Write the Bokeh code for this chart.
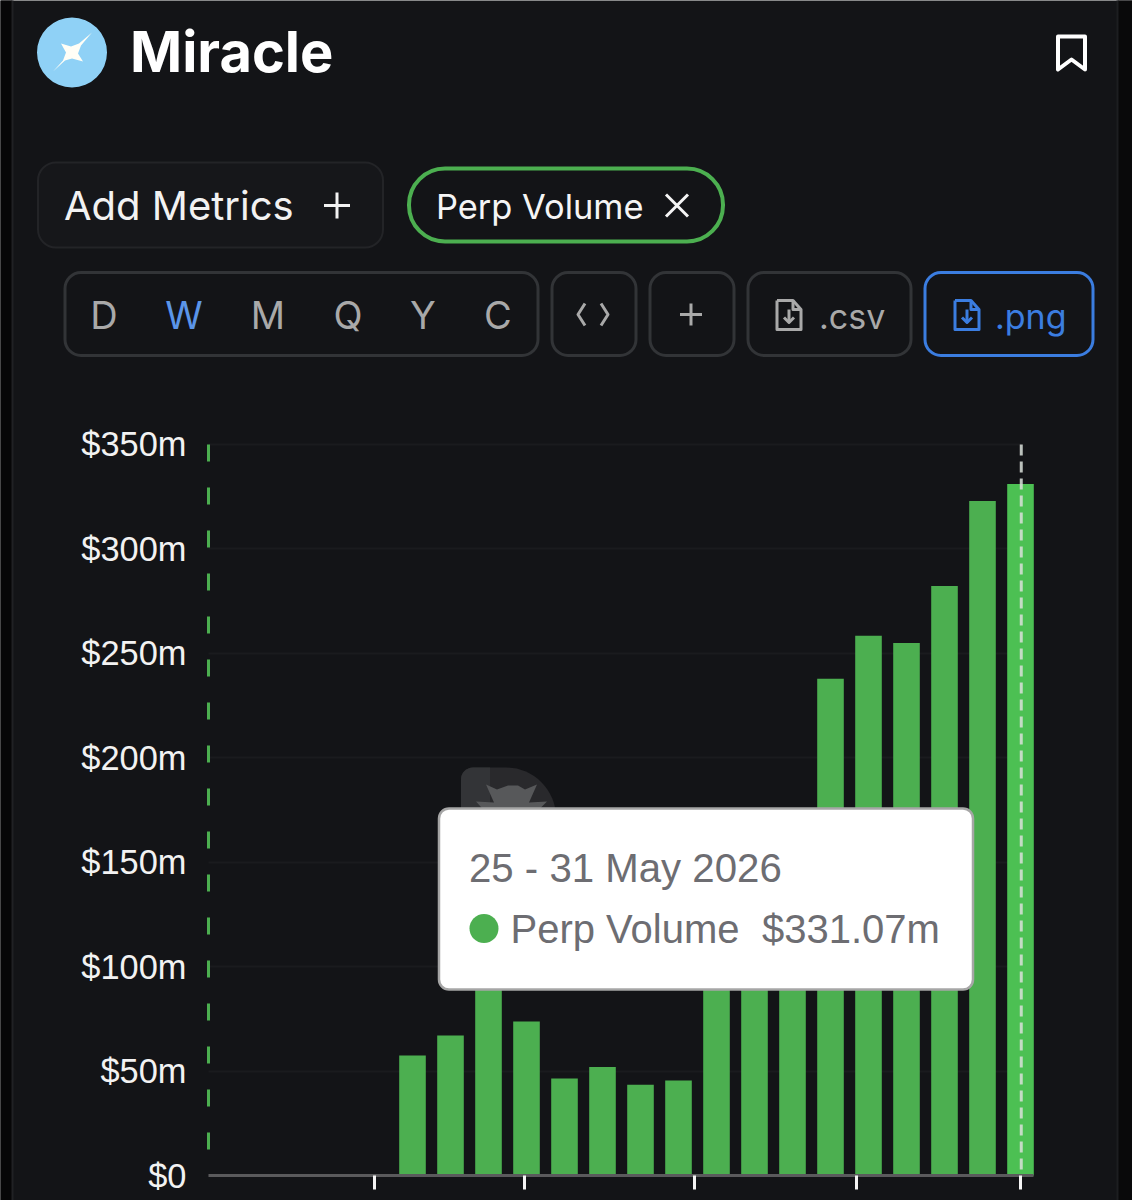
from bokeh.plotting import figure
from bokeh.embed import file_html
from bokeh.resources import INLINE
from bokeh.core.properties import value
from bokeh.models import Range1d, LinearAxis, FixedTicker, ColumnDataSource, Grid

# ---- data ----
week_index = list(range(17))
perp_volume = [57.4, 67, 100, 73.7, 46.4, 52, 43.5, 45.5, 120, 140, 165, 237.8, 258.4, 255, 282.3, 323, 331.07]
y_ticks = [0, 50, 100, 150, 200, 250, 300, 350]
y_labels = ["$0", "$50m", "$100m", "$150m", "$200m", "$250m", "$300m", "$350m"]
x_ticks = [-1, 2.95, 7.42, 11.68, 16]
period_labels = ["D", "W", "M", "Q", "Y", "C"]
tooltip_date = "25 - 31 May 2026"
series_name = "Perp Volume"
tooltip_value = "$331.07m"

BG = "#131417"
GREEN = "#4caf50"
HOVER = "#4cc053"
BLUE = "#3b7de0"

# Page geometry: the canvas fills the whole 1132x1200 window
W, H = 1132, 1200
PX_PER_WEEK = 38.0
PX_PER_M = 2.0886
X0 = 412.0
Y0 = 1175.0
xr = Range1d((0 - X0) / PX_PER_WEEK, (W - X0) / PX_PER_WEEK)
yr = Range1d((Y0 - H) / PX_PER_M, Y0 / PX_PER_M)

p = figure(width=W, height=H, x_range=xr, y_range=yr, output_backend="svg",
           toolbar_location=None, min_border=0, x_axis_type=None, y_axis_type=None,
           background_fill_color=BG, border_fill_color=BG, outline_line_color=None)
p.extra_x_ranges["px"] = Range1d(0.5, W + 0.5)
p.extra_y_ranges["px"] = Range1d(H + 1, 1)
PX = dict(x_range_name="px", y_range_name="px")

left_edge = (208 - X0) / PX_PER_WEEK
right_edge = (1033 - X0) / PX_PER_WEEK

# axes
yaxis = LinearAxis(fixed_location=left_edge, ticker=FixedTicker(ticks=y_ticks),
                   major_label_overrides=dict(zip(y_ticks, y_labels)),
                   axis_line_color=None, major_tick_line_color=None, minor_tick_line_color=None,
                   major_label_text_color="#f2f2f2", major_label_text_font="Liberation Sans",
                   major_label_text_font_size="34.4px", major_label_standoff=16)
p.add_layout(yaxis, "left")
xaxis = LinearAxis(fixed_location=0, ticker=FixedTicker(ticks=x_ticks), bounds=(left_edge, right_edge),
                   major_label_overrides={t: "" for t in x_ticks},
                   axis_line_color="#5a5a5c", axis_line_width=3,
                   major_tick_line_color="#f5f5f5", major_tick_line_width=3,
                   major_tick_out=14, major_tick_in=0, minor_tick_line_color=None,
                   major_label_text_font_size="1px")
p.add_layout(xaxis, "below")
p.add_layout(Grid(dimension=1, ticker=yaxis.ticker, cross_bounds=(left_edge, (1021 - X0) / PX_PER_WEEK),
                  grid_line_color="#1a1b1e", grid_line_width=2))

# bars
colors = [GREEN] * (len(week_index) - 1) + [HOVER]
src = ColumnDataSource(dict(x=week_index, top=perp_volume, color=colors))
p.vbar(x="x", top="top", bottom=0, width=0.7, source=src, fill_color="color", line_color=None)

# green dashed left guide, white dashed cross-hair (dashes run from the top)
p.segment(x0=[left_edge], x1=[left_edge], y0=[350], y1=[0], line_color=GREEN, line_width=3, line_dash="17 26")
hx = week_index[-1] + 0.02
p.segment(x0=[hx], x1=[hx], y0=[350], y1=[0], line_color="#d9dfd9", line_alpha=0.85, line_width=3, line_dash="11 6")


def box(l, r, t, b, radius, fill=None, line=None, lw=2):
    p.quad(left=[l], right=[r], top=[t], bottom=[b], border_radius=radius,
           fill_color=fill, line_color=line, line_width=lw, **PX)


def txt(x, y, s, size, color="#ffffff", font="Inter", align="left", style="normal"):
    p.text(x=[x], y=[y], text=[s], text_font=value(font), text_font_size=f"{size}px", text_color=color,
           text_align=align, text_baseline="middle", text_font_style=style, **PX)


def strokes(xs, ys, color, w=3):
    p.multi_line(xs=xs, ys=ys, line_color=color, line_width=w, line_cap="butt", line_join="round", **PX)


# phone edges
box(-1, 12, -2, H + 2, 0, "#060607", None)
box(1118, W + 2, -2, H + 2, 0, "#09090a", None)
strokes([[12.5, 12.5]], [[-2, H + 2]], "#202124", 2)
strokes([[1117.5, 1117.5]], [[-2, H + 2]], "#1d1e21", 2)

# header
p.scatter(x=[72], y=[53], size=70, marker="circle", fill_color="#8fd1f6", line_color=None, **PX)
p.patch(x=[61, 71, 79, 92, 81, 78, 83, 72, 65, 53, 63, 66], y=[44, 47, 44, 33, 46, 54, 62, 59, 61, 72, 61, 53],
        fill_color="#fffef6", line_color=None, **PX)
txt(130, 52, "Miracle", 56, style="bold")
p.patch(x=[1058, 1085, 1085, 1071.5, 1058], y=[37, 37, 70, 60, 70], fill_color=None,
        line_color="#ffffff", line_width=4, line_join="round", **PX)

box(38, 383, 163, 248, 18, "#16171a", "#232427", 2)
txt(64, 206, "Add Metrics", 40, "#f2f2f2")
strokes([[324, 350], [337, 337]], [[206, 206], [193, 219]], "#f2f2f2", 3)

box(409, 723, 169, 242, 36, BG, GREEN, 4)
txt(436, 207, series_name, 34.4, "#f5f5f5")
strokes([[666, 688], [688, 666]], [[195, 217], [195, 217]], "#f5f5f5", 3)

# period selector and buttons
box(65, 538, 273, 356, 16, BG, "#323437", 3)
for cx, lab in zip([104, 184, 268, 348, 423, 498], period_labels):
    txt(cx, 315, lab, 38, "#5b95e8" if lab == "W" else "#a9a9a9", align="center")
box(552, 636, 273, 356, 16, BG, "#323437", 3)
strokes([[585, 578, 585], [601, 608, 601]], [[304, 315, 326], [304, 315, 326]], "#a9a9a9", 3)
box(650, 734, 273, 356, 16, BG, "#323437", 3)
strokes([[680, 702], [691, 691]], [[315, 315], [304, 326]], "#a9a9a9", 3)
box(748, 911, 273, 356, 16, BG, "#323437", 3)
box(925, 1093, 273, 356, 16, BG, BLUE, 3)


def doc_icon(dx, color):
    strokes([[dx - 12, dx + 4, dx + 12, dx + 12, dx - 12, dx - 12],
             [dx + 4, dx + 4, dx + 12],
             [dx, dx],
             [dx - 5, dx, dx + 5]],
            [[301, 301, 310, 330, 330, 301],
             [301, 310, 310],
             [310, 323],
             [318, 323, 318]], color, 3)


doc_icon(789, "#a9a9a9")
txt(819, 317, ".csv", 34, "#a9a9a9")
doc_icon(967, BLUE)
txt(995, 317, ".png", 34, BLUE)

# watermark behind the tooltip
box(461, 556, 768, 830, (12, 50, 0, 0), "#29292c", None)
box(461, 490, 768, 830, (12, 0, 0, 0), "#333437", None)
p.patch(x=[486, 497, 508, 518, 525, 537, 529, 547, 537, 485, 476, 494],
        y=[785, 790, 786, 786, 790, 785, 803, 802, 812, 812, 802, 803],
        fill_color="#57585a", line_color=None, **PX)

# tooltip
box(439, 973, 809, 990, 10, "#ffffff", "#a6a6a6", 2.5)
txt(469, 869, tooltip_date, 40.2, "#6d6d72", "Liberation Sans")
p.scatter(x=[484], y=[929], size=29, marker="circle", fill_color=GREEN, line_color=None, **PX)
txt(510.5, 929, series_name, 40, "#6d6d72", "Liberation Sans")
txt(762, 929, tooltip_value, 40, "#6d6d72", "Liberation Sans")

open("out.html", "w").write(file_html(p, INLINE))
